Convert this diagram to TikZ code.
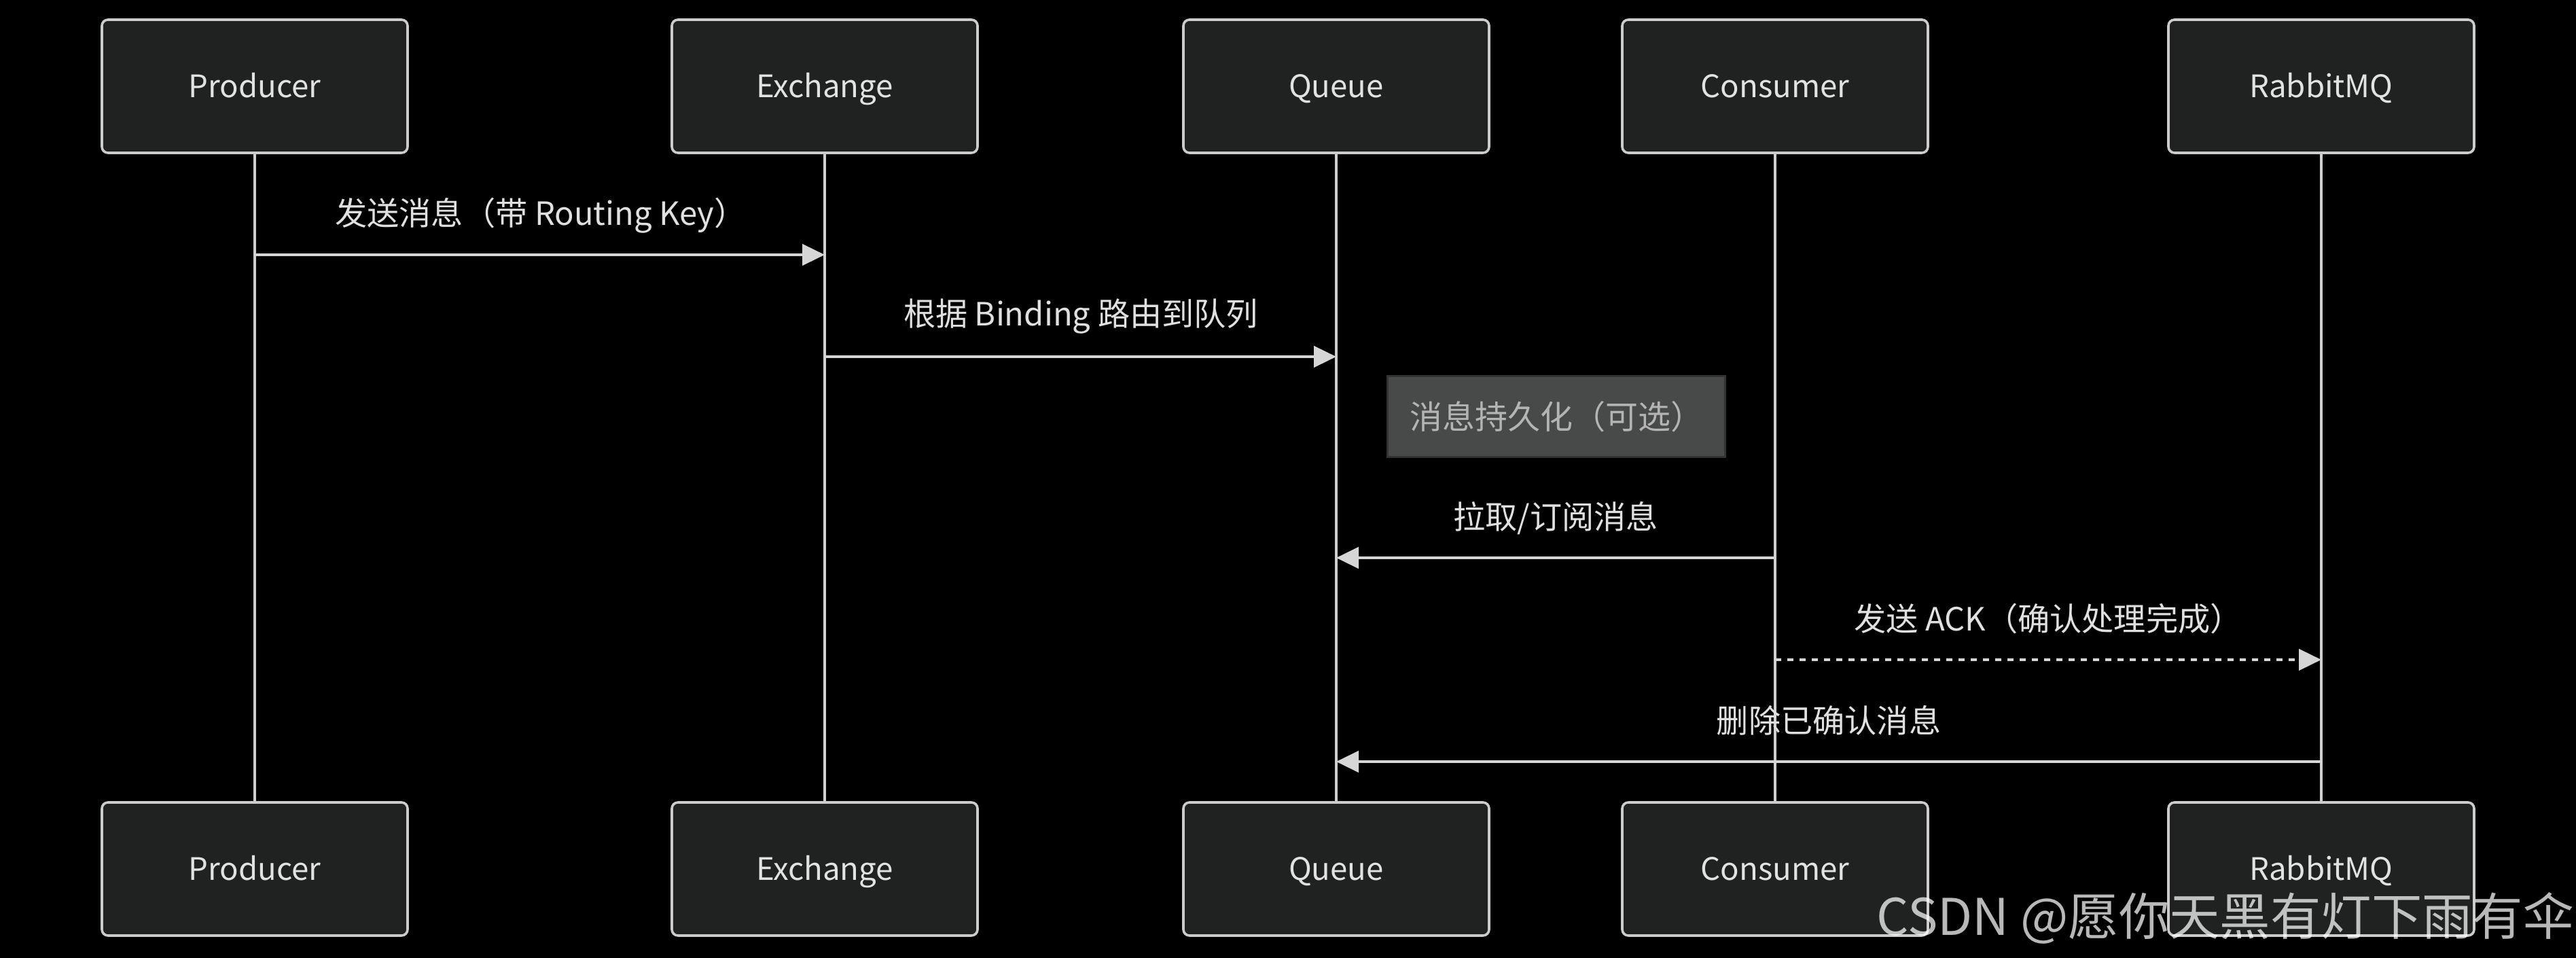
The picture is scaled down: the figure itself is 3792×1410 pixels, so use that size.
\documentclass[tikz,border=0pt]{standalone}
\usepackage{fontspec}
\setmainfont{Noto Sans CJK SC}
\usetikzlibrary{arrows.meta}
\definecolor{actfill}{HTML}{202121}
\definecolor{actdraw}{HTML}{CCCCCC}
\definecolor{acttext}{HTML}{E2E2E2}
\definecolor{lifecol}{HTML}{D0D0D0}
\definecolor{msgcol}{HTML}{D6D6D6}
\definecolor{msgtext}{HTML}{E0E0E0}
\definecolor{notefill}{HTML}{484949}
\definecolor{notedraw}{HTML}{333333}
\definecolor{notetext}{HTML}{B4B4B4}
\tikzset{
  actor/.style={draw=actdraw, fill=actfill, line width=0.9pt, rounded corners=2.25pt,
    minimum width=112.5pt, minimum height=49pt, inner sep=0pt,
    text=acttext, font=\fontsize{11.4pt}{14pt}\selectfont, text height=8.4pt, text depth=0pt},
  lifeline/.style={draw=lifecol, line width=1.1pt},
  msg/.style={draw=msgcol, line width=1pt, -{Triangle[length=8.25pt,width=7.8pt]}},
  dotmsg/.style={msg, dash pattern=on 2.25pt off 2.25pt},
  msglabel/.style={anchor=base, text=msgtext, font=\fontsize{11.8pt}{14pt}\selectfont, inner sep=0pt},
  notebox/.style={draw=notedraw, fill=notefill, line width=0.75pt, minimum width=124.25pt,
    minimum height=29.75pt, inner sep=0pt, text=notetext, font=\fontsize{12pt}{14pt}\selectfont,
    text height=8.76pt, text depth=0pt},
  wmark/.style={anchor=base west, inner sep=0pt, text=white, text opacity=0.72,
    font=\fontsize{18.6pt}{21pt}\selectfont}
}
\begin{document}
\begin{tikzpicture}[x=0.25pt,y=-0.25pt]
\fill[black] (0,0) rectangle (3792,1410);
\useasboundingbox (0,0) rectangle (3792,1410);

% actors top
\node[actor] (prodT) at (375,127) {Producer};
\node[actor] (exchT) at (1214,127) {Exchange};
\node[actor] (queT)  at (1967,127) {Queue};
\node[actor] (conT)  at (2613,127) {Consumer};
\node[actor] (rabT)  at (3417,127) {RabbitMQ};
% actors bottom
\node[actor] (prodB) at (375,1279) {Producer};
\node[actor] (exchB) at (1214,1279) {Exchange};
\node[actor] (queB)  at (1967,1279) {Queue};
\node[actor] (conB)  at (2613,1279) {Consumer};
\node[actor] (rabB)  at (3417,1279) {RabbitMQ};

% lifelines
\draw[lifeline] (prodT.south) -- (prodB.north);
\draw[lifeline] (exchT.south) -- (exchB.north);
\draw[lifeline] (queT.south) -- (queB.north);
\draw[lifeline] (conT.south) -- (conB.north);
\draw[lifeline] (rabT.south) -- (rabB.north);

% message levels
\coordinate (y1) at (0,375);
\coordinate (y2) at (0,525);
\coordinate (y3) at (0,821);
\coordinate (y4) at (0,971);
\coordinate (y5) at (0,1121);

\draw[msg] (prodT |- y1) -- (exchT |- y1);
\node[msglabel] (l1) at (796,332) {发送消息（带 Routing Key）};

\draw[msg] (exchT |- y2) -- (queT |- y2);
\node[msglabel] (l2) at (1591,480) {根据 Binding 路由到队列};

\node[notebox] (note) at (2291,613.5) {消息持久化（可选）};

\draw[msg] (conT |- y3) -- (queT |- y3);
\node[msglabel] (l3) at (2290,779) {拉取/订阅消息};

\draw[dotmsg] (conT |- y4) -- (rabT |- y4);
\node[msglabel] (l4) at (3015,929) {发送 ACK（确认处理完成）};

\draw[msg] (rabT |- y5) -- (queT |- y5);
\node[msglabel] (l5) at (2692,1078) {删除已确认消息};

% watermark
\node[wmark] (wm) at (2762,1376) {CSDN @愿你天黑有灯下雨有伞};
\end{tikzpicture}
\end{document}
